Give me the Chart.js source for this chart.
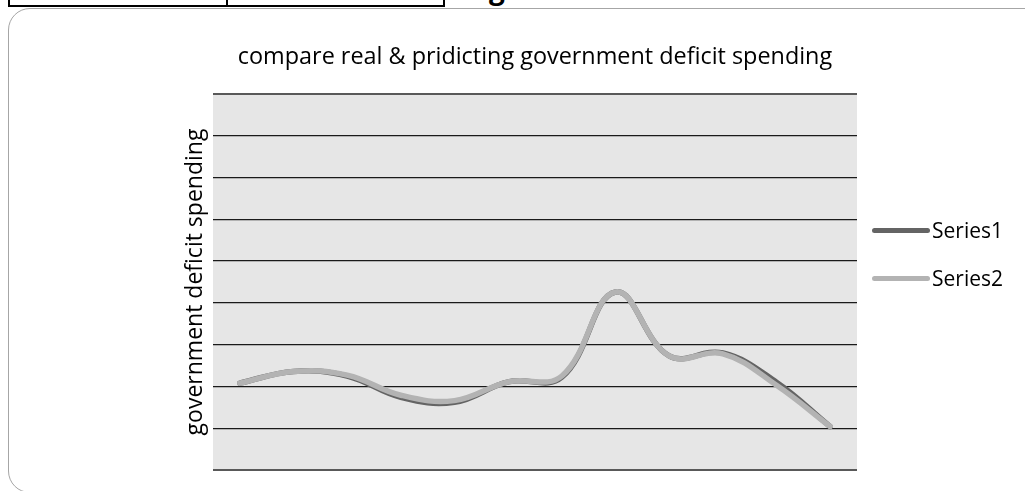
<!DOCTYPE html>
<html>
<head>
<meta charset="utf-8">
<script src="https://cdn.jsdelivr.net/npm/chart.js@4.4.1/dist/chart.umd.min.js"></script>
<style>
  html, body { margin: 0; padding: 0; background: #fff; overflow: hidden; }
  body { width: 1025px; height: 491px; position: relative; font-family: "Open Sans", sans-serif; }
  #frame { position: absolute; left: 8px; top: 8px; width: 1040px; height: 485px;
    border: 1.5px solid #a6a6a6; border-radius: 22px; box-sizing: border-box; }
  #tbl { position: absolute; left: 8px; top: -30px; width: 437px; height: 37px;
    border: 2.5px solid #000; box-sizing: border-box; background: #fff; }
  #tbl .mid { position: absolute; left: 216px; top: 0; bottom: 0; border-left: 2.5px solid #000; }
  #cut { position: absolute; left: 489px; top: -31px; font: bold 28px "Open Sans", sans-serif; color: #000; }
  #wrap { position: absolute; left: 0; top: 0; width: 1025px; height: 491px; }
  .leg { position: absolute; left: 872px; height: 22px; display: flex; align-items: center; }
  .leg .ln { width: 58px; height: 5px; border-radius: 3px; }
  .leg span { font-size: 21px; color: #000; margin-left: 2px; }
</style>
</head>
<body>
<div id="frame"></div>
<div id="tbl"><div class="mid"></div></div>
<div id="cut">g</div>
<div id="wrap"><canvas id="chart" width="1025" height="491"></canvas></div>
<div class="leg" style="top:219px"><div class="ln" style="background:#646464"></div><span>Series1</span></div>
<div class="leg" style="top:267px"><div class="ln" style="background:#b3b3b3"></div><span>Series2</span></div>
<script>
// andmed
const categories = ['1', '2', '3', '4', '5', '6', '7', '8', '9', '10', '11', '12'];
const series1 = [2.08, 2.36, 2.25, 1.74, 1.62, 2.11, 2.22, 4.26, 2.73, 2.8, 2.1, 1.04];
const series2 = [2.08, 2.36, 2.27, 1.79, 1.66, 2.11, 2.25, 4.26, 2.73, 2.78, 2.03, 1.04];
const yMin = 0;
const yMax = 9;
const yStep = 1;

const chartTitle = 'compare real & pridicting government deficit spending';
const yTitle = 'government deficit spending';

// halli tausta joonistamine
const plotBg = {
    id: 'plotBg',
    beforeDraw(chart) {
        const { ctx, chartArea: a } = chart;
        ctx.save();
        ctx.fillStyle = '#e6e6e6';
        ctx.fillRect(a.left, a.top, a.right - a.left, a.bottom - a.top);
        ctx.restore();
    }
};

const ctx = document.getElementById('chart').getContext('2d');
new Chart(ctx, {
    type: 'line',
    data: {
        labels: categories,
        datasets: [{
            label: 'Series1',
            data: series1,
            borderColor: '#646464',
            borderWidth: 5.5,
            borderCapStyle: 'round',
            tension: 0.4,
            pointRadius: 0,
            order: 1
        }, {
            label: 'Series2',
            data: series2,
            borderColor: '#b3b3b3',
            borderWidth: 5.5,
            borderCapStyle: 'round',
            tension: 0.4,
            pointRadius: 0,
            order: 0
        }]
    },
    options: {
        responsive: false,
        animation: false,
        layout: { padding: { top: 0, left: 182, right: 168, bottom: 21 } },
        scales: {
            x: {
                display: false,
                offset: true
            },
            y: {
                min: yMin,
                max: yMax,
                ticks: { display: false, stepSize: yStep },
                border: { display: false },
                grid: {
                    drawTicks: false,
                    color: (c) => (c.tick.value === yMin || c.tick.value === yMax) ? '#595959' : '#1a1a1a',
                    lineWidth: (c) => (c.tick.value === yMin || c.tick.value === yMax) ? 2 : 1.3
                },
                title: {
                    display: true,
                    text: yTitle,
                    color: '#000',
                    font: { family: 'Open Sans', size: 23 },
                    padding: { top: 0, bottom: 3.4 }
                }
            }
        },
        plugins: {
            legend: { display: false },
            tooltip: { enabled: false },
            title: {
                display: true,
                fullSize: false,
                text: chartTitle,
                color: '#000',
                font: { family: 'Open Sans', size: 23.4, weight: 'normal' },
                padding: { top: 43, bottom: 22.9 }
            }
        }
    },
    plugins: [plotBg]
});
</script>
</body>
</html>
